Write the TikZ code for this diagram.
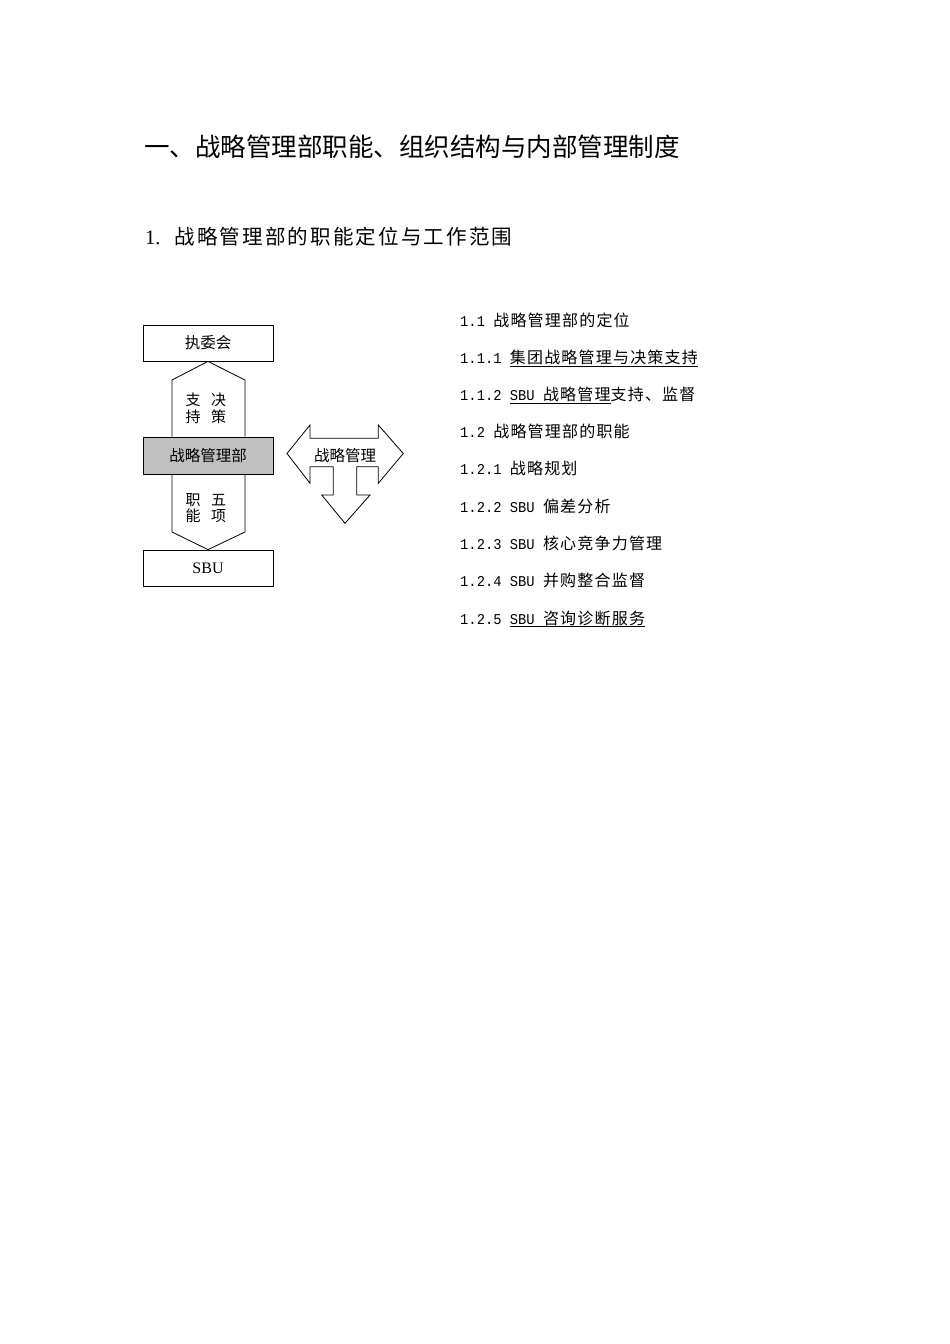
\documentclass[tikz,border=0pt]{standalone}
\usepackage{fontspec}
\newfontfamily\cjk{Noto Sans CJK SC}
\newfontfamily\cjkls[LetterSpace=7.5]{Noto Sans CJK SC}
\newfontfamily\cjkss[LetterSpace=10.5]{Noto Sans CJK SC}
\newfontfamily\monof[FakeStretch=0.92]{Liberation Mono}
\newfontfamily\seriff{Liberation Serif}
\newcommand{\mnum}[1]{{\fontsize{15}{17}\selectfont\monof #1}}
\newcommand{\ulx}[1]{\setbox0=\hbox{#1}\rlap{\rule[-3pt]{\wd0}{1pt}}\box0}
\definecolor{boxgray}{RGB}{192,192,192}
\tikzset{
  box/.style={draw, line width=0.8pt, minimum width=130, minimum height=36, inner sep=0pt,
     font=\fontsize{15.5}{18}\selectfont\cjk},
  shapeline/.style={draw, line width=0.8pt},
  lbl/.style={inner sep=0pt, font=\fontsize{15}{17}\selectfont\cjk},
  listline/.style={anchor=base west, inner sep=0pt, font=\fontsize{16}{19}\selectfont\cjkls},
}
\begin{document}
\begin{tikzpicture}[x=1pt,y=-1pt]
\fill[white] (0,0) rectangle (950,1344);
\useasboundingbox (0,0) rectangle (950,1344);

% headings
\node[anchor=base west, inner sep=0pt, font=\fontsize{25.5}{30}\selectfont\cjk] (title) at (144,156) {一、战略管理部职能、组织结构与内部管理制度};
\node[anchor=base west, inner sep=0pt, font=\fontsize{20.5}{24}\selectfont\cjkss] (sub) at (145,244.5) {{\seriff 1.}\hspace{14pt}战略管理部的职能定位与工作范围};

% left diagram
\node[box] (zw) at (208,343) {执委会};
\node[box, fill=boxgray, minimum height=37] (dept) at (208,455.5) {战略管理部};
\node[box, font=\fontsize{16}{18}\selectfont\seriff] (sbu) at (208,568) {SBU};

\draw[shapeline] (dept.north -| 172,0) -- (172,380) -- (zw.south) -- (245,380) -- (dept.north -| 245,0);
\draw[shapeline] (dept.south -| 172,0) -- (172,532) -- (sbu.north) -- (245,532) -- (dept.south -| 245,0);

\node[lbl] (l1) at (193,400) {支};
\node[lbl] (l2) at (218.5,400) {决};
\node[lbl] (l3) at (193,417) {持};
\node[lbl] (l4) at (218.5,417) {策};
\node[lbl] (l5) at (193,500) {职};
\node[lbl] (l6) at (218.5,500) {五};
\node[lbl] (l7) at (193,516) {能};
\node[lbl] (l8) at (218.5,516) {项};

% strategic management arrow shape
\draw[shapeline, line join=miter] (287,453.5) -- (310,425) -- (310,438.3) -- (378.3,438.3) -- (378.3,425)
  -- (403.3,453.5) -- (378.3,483.3) -- (378.3,466.7) -- (356.7,466.7) -- (356.7,495) -- (370,495)
  -- (345,523.3) -- (321.7,495) -- (333.3,495) -- (333.3,466.7) -- (310,466.7) -- (310,483.3) -- cycle;
\node[inner sep=0pt, font=\fontsize{15.5}{18}\selectfont\cjk] (sm) at (345,456) {战略管理};

% list
\node[listline] (t1) at (460,326.5) {\mnum{1.1 }战略管理部的定位};
\node[listline] (t2) at (460,363.5) {\mnum{1.1.1 }\ulx{集团战略管理与决策支持}};
\node[listline] (t3) at (460,400.5) {\mnum{1.1.2 }\ulx{\mnum{SBU }战略管理}支持、监督};
\node[listline] (t4) at (460,437.5) {\mnum{1.2 }战略管理部的职能};
\node[listline] (t5) at (460,474.5) {\mnum{1.2.1 }战略规划};
\node[listline] (t6) at (460,512) {\mnum{1.2.2 SBU }偏差分析};
\node[listline] (t7) at (460,549) {\mnum{1.2.3 SBU }核心竞争力管理};
\node[listline] (t8) at (460,586) {\mnum{1.2.4 SBU }并购整合监督};
\node[listline] (t9) at (460,624) {\mnum{1.2.5 }\ulx{\mnum{SBU }咨询诊断服务}};
\end{tikzpicture}
\end{document}
